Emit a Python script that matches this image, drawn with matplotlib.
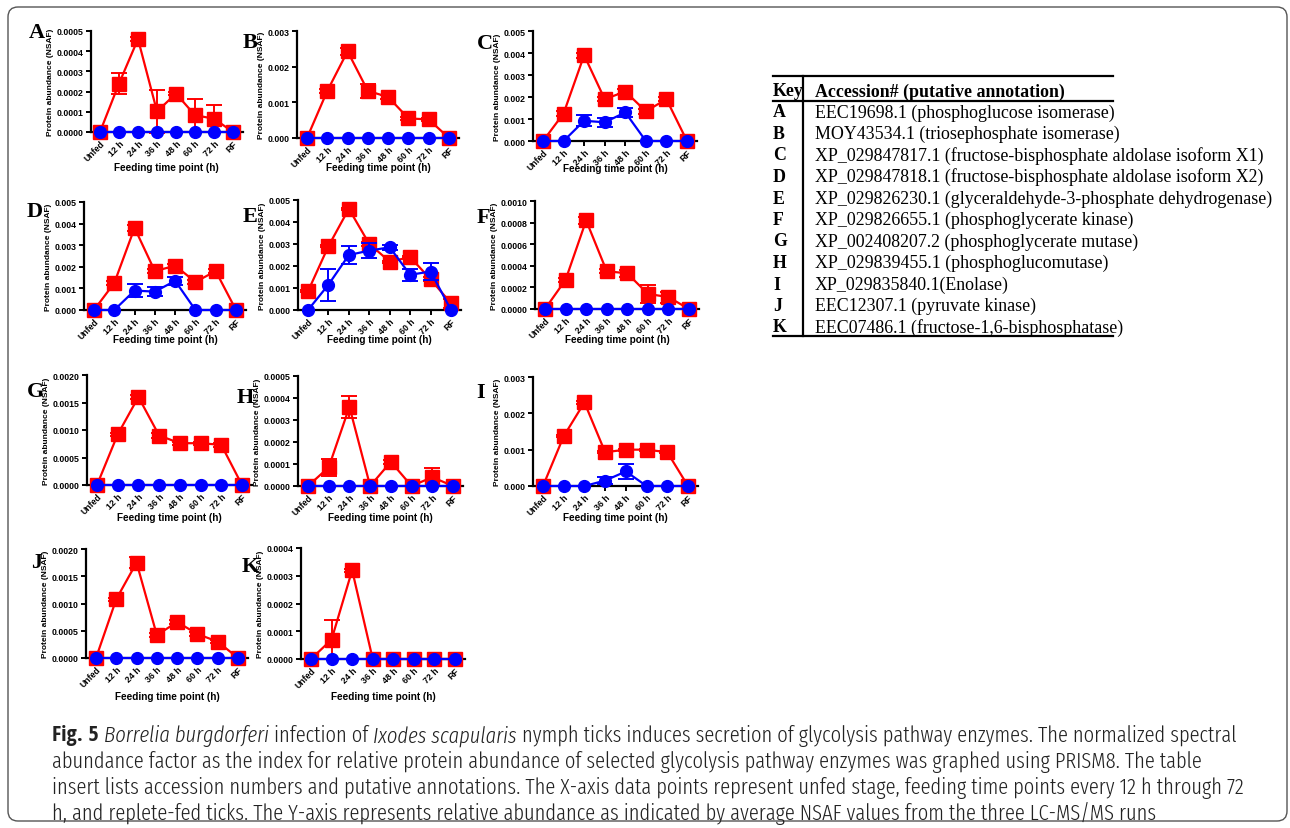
import matplotlib
matplotlib.use("Agg")
import matplotlib.pyplot as plt
from matplotlib import font_manager
from matplotlib.lines import Line2D
from matplotlib.patches import FancyBboxPatch
from matplotlib.transforms import IdentityTransform
import numpy as np

W, H = 1290, 829
RED = "#ff0000"
BLUE = "#0000ff"

timepoints = ["Unfed", "12 h", "24 h", "36 h", "48 h", "60 h", "72 h", "RF"]
keys = list("ABCDEFGHIJK")

# red squares (mean, sd) and blue circles (mean, sd) per panel
red_A = [0, 0.00024, 0.00046, 0.000102, 0.00019, 0.000083, 0.000066, 0]
red_err_A = [0, 0.000052, 0.000008, 0.000105, 0.000008, 0.000082, 0.000068, 0]
blue_A = [0, 0, 0, 0, 0, 0, 0, 0]
blue_err_A = [0, 0, 0, 0, 0, 0, 0, 0]

red_B = [0, 0.00132, 0.00243, 0.00132, 0.00115, 0.00055, 0.00052, 0]
red_err_B = [0, 0.00006, 0.00009, 0.0002, 0.00006, 0.00005, 0.00005, 0]
blue_B = [0, 0, 0, 0, 0, 0, 0, 0]
blue_err_B = [0, 0, 0, 0, 0, 0, 0, 0]

red_C = [0, 0.00125, 0.0039, 0.0019, 0.00225, 0.00135, 0.0019, 0]
red_err_C = [0, 0.0001, 0.00012, 0.0001, 0.0001, 0.0001, 0.0001, 0]
blue_C = [0, 0, 0.00092, 0.00085, 0.0013, 0, 0, 0]
blue_err_C = [0, 0, 0.00025, 0.0002, 0.0002, 0, 0, 0]

red_D = [0, 0.00125, 0.0038, 0.0018, 0.00205, 0.0013, 0.0018, 0]
red_err_D = [0, 0.0001, 0.00012, 0.0001, 0.0001, 0.0001, 0.0001, 0]
blue_D = [0, 0, 0.0009, 0.00085, 0.00135, 0, 0, 0]
blue_err_D = [0, 0, 0.0003, 0.0002, 0.0002, 0, 0, 0]

red_E = [0.00085, 0.0029, 0.0046, 0.003, 0.0022, 0.0024, 0.0014, 0.0003]
red_err_E = [0.00005, 0.00005, 0.00005, 0.0001, 0.00005, 0.00005, 0.0001, 0.0002]
blue_E = [0, 0.00115, 0.0025, 0.0027, 0.00285, 0.0016, 0.00175, 0]
blue_err_E = [0, 0.00072, 0.0004, 0.00035, 0.0001, 0.00028, 0.0004, 0]

red_F = [0, 0.00027, 0.00082, 0.00035, 0.00033, 0.00014, 0.00011, 0]
red_err_F = [0, 0.00002, 0.00003, 0.00002, 0.00003, 0.00008, 0.00005, 0]
blue_F = [0, 0, 0, 0, 0, 0, 0, 0]
blue_err_F = [0, 0, 0, 0, 0, 0, 0, 0]

red_G = [0, 0.00092, 0.0016, 0.0009, 0.00076, 0.00076, 0.00073, 0]
red_err_G = [0, 0.00003, 0.00004, 0.00004, 0.00003, 0.00003, 0.00003, 0]
blue_G = [0, 0, 0, 0, 0, 0, 0, 0]
blue_err_G = [0, 0, 0, 0, 0, 0, 0, 0]

red_H = [0, 0.000085, 0.00036, 0, 0.00011, 0, 0.00004, 0]
red_err_H = [0, 0.00004, 0.00005, 0, 0.00001, 0, 0.00004, 0]
blue_H = [0, 0, 0, 0, 0, 0, 0, 0]
blue_err_H = [0, 0, 0, 0, 0, 0, 0, 0]

red_I = [0, 0.00137, 0.0023, 0.00093, 0.001, 0.001, 0.00093, 0]
red_err_I = [0, 0.00003, 0.00003, 0.00003, 0.00003, 0.00003, 0.00003, 0]
blue_I = [0, 0, 0, 0.00015, 0.0004, 0, 0, 0]
blue_err_I = [0, 0, 0, 0.0001, 0.0002, 0, 0, 0]

red_J = [0, 0.00108, 0.00175, 0.00042, 0.00066, 0.00044, 0.0003, 0]
red_err_J = [0, 0.00003, 0.0001, 0.00003, 0.00003, 0.00003, 0.00003, 0]
blue_J = [0, 0, 0, 0, 0, 0, 0, 0]
blue_err_J = [0, 0, 0, 0, 0, 0, 0, 0]

red_K = [0, 0.00007, 0.00032, 0, 0, 0, 0, 0]
red_err_K = [0, 0.00007, 0.000005, 0, 0, 0, 0, 0]
blue_K = [0, 0, 0, 0, 0, 0, 0, 0]
blue_err_K = [0, 0, 0, 0, 0, 0, 0, 0]

# y axis: max, step, decimals
y_max = [0.0005, 0.003, 0.005, 0.005, 0.005, 0.001, 0.002, 0.0005, 0.003, 0.002, 0.0004]
y_step = [0.0001, 0.001, 0.001, 0.001, 0.001, 0.0002, 0.0005, 0.0001, 0.001, 0.0005, 0.0001]
y_dec = [4, 3, 3, 3, 3, 4, 4, 4, 3, 4, 4]

table_keys = keys
table_rows = [
    "EEC19698.1 (phosphoglucose isomerase)",
    "MOY43534.1 (triosephosphate isomerase)",
    "XP_029847817.1 (fructose-bisphosphate aldolase isoform X1)",
    "XP_029847818.1 (fructose-bisphosphate aldolase isoform X2)",
    "XP_029826230.1 (glyceraldehyde-3-phosphate dehydrogenase)",
    "XP_029826655.1 (phosphoglycerate kinase)",
    "XP_002408207.2 (phosphoglycerate mutase)",
    "XP_029839455.1 (phosphoglucomutase)",
    "XP_029835840.1(Enolase)",
    "EEC12307.1 (pyruvate kinase)",
    "EEC07486.1 (fructose-1,6-bisphosphatase)",
]

caption_lines = [
    "abundance factor as the index for relative protein abundance of selected glycolysis pathway enzymes was graphed using PRISM8. The table",
    "insert lists accession numbers and putative annotations. The X-axis data points represent unfed stage, feeding time points every 12 h through 72",
    "h, and replete-fed ticks. The Y-axis represents relative abundance as indicated by average NSAF values from the three LC-MS/MS runs",
]

# layout in pixels: (x of Unfed, x of RF, top y, bottom y), letter pos, xlabel y
boxes = [(100, 233, 32, 133), (307, 449, 32, 139), (543, 687, 32, 142),
         (94, 236, 203, 311), (308, 451, 201, 311), (545, 689, 202, 310),
         (97, 242, 376, 486), (308, 453, 377, 487), (543, 688, 378, 487),
         (96, 238, 550, 659), (311, 455, 549, 660)]
letters = [(37, 33), (250, 43), (485, 44), (35, 212), (250, 217), (483, 218),
           (35, 392), (245, 398), (481, 393), (37, 563), (250, 567)]
xlab_y = [168, 168, 169, 340, 340, 340, 518, 518, 518, 697, 697]

plt.rcParams["font.family"] = ["Liberation Sans", "DejaVu Sans"]
fig = plt.figure(figsize=(W / 100, H / 100), dpi=100)


def fx(x):
    return x / W


def fy(y):
    return 1 - y / H


red_all = [red_A, red_B, red_C, red_D, red_E, red_F, red_G, red_H, red_I, red_J, red_K]
red_err_all = [red_err_A, red_err_B, red_err_C, red_err_D, red_err_E, red_err_F,
               red_err_G, red_err_H, red_err_I, red_err_J, red_err_K]
blue_all = [blue_A, blue_B, blue_C, blue_D, blue_E, blue_F, blue_G, blue_H, blue_I, blue_J, blue_K]
blue_err_all = [blue_err_A, blue_err_B, blue_err_C, blue_err_D, blue_err_E, blue_err_F,
                blue_err_G, blue_err_H, blue_err_I, blue_err_J, blue_err_K]


def series(ax, x, y, err, color, marker, ms, z):
    y = np.array(y)
    err = np.array(err)
    m = err > 0
    if m.any():
        ax.errorbar(x[m], y[m], yerr=err[m], fmt="none", ecolor=color, elinewidth=1.4,
                    capsize=6, capthick=1.4, zorder=z, clip_on=False)
    ax.plot(x, y, color=color, lw=1.6, marker=marker, ms=ms, mec=color, mfc=color,
            zorder=z + 0.5, clip_on=False)


for i, k in enumerate(keys):
    ux, rx, top, bot = boxes[i]
    s = (rx - ux) / 7
    x0, x1 = ux - 0.5 * s, rx + 0.5 * s
    ax = fig.add_axes([fx(x0), fy(bot), (x1 - x0) / W, (bot - top) / H])
    x = np.arange(len(timepoints))
    series(ax, x, red_all[i], red_err_all[i], RED, "s", 9.5, 3)
    series(ax, x, blue_all[i], blue_err_all[i], BLUE, "o", 8.5, 5)
    ax.set_xlim(-0.5, 7.5)
    ax.set_ylim(0, y_max[i])
    ticks = np.arange(0, y_max[i] + y_step[i] / 2, y_step[i])
    ax.set_yticks(ticks)
    ax.set_yticklabels([f"{t:.{y_dec[i]}f}" for t in ticks], fontsize=6.3, fontweight="bold")
    ax.set_xticks(x)
    ax.set_xticklabels(timepoints, rotation=45, ha="right", rotation_mode="anchor",
                       fontsize=6.3, fontweight="bold")
    for sp in ["top", "right"]:
        ax.spines[sp].set_visible(False)
    for sp in ["left", "bottom"]:
        ax.spines[sp].set_linewidth(1.6)
    ax.tick_params(width=1.4, length=3.5, pad=1.5)
    ax.set_ylabel("Protein abundance (NSAF)", fontsize=6, fontweight="bold", labelpad=2)
    ax.patch.set_alpha(0)
    fig.text(fx((x0 + x1) / 2), fy(xlab_y[i]), "Feeding time point (h)", ha="center",
             va="center", fontsize=7.2, fontweight="bold")
    fig.text(fx(letters[i][0]), fy(letters[i][1]), k, ha="center", va="center",
             fontsize=16, fontweight="bold", family="Liberation Serif")

renderer = fig.canvas.get_renderer()


def text_w(s, size, **kw):
    t = fig.text(0, 0, s, fontsize=size, **kw)
    w = t.get_window_extent(renderer).width
    t.remove()
    return w


# table
serif = "Liberation Serif"
tsize = 12 * 455 / text_w(table_rows[4], 12, family=serif)
for y0, x_a, x_b in [(77, 773, 1113), (102, 773, 1113), (337, 773, 1113)]:
    fig.add_artist(Line2D([fx(x_a), fx(x_b)], [fy(y0), fy(y0)], color="black", lw=1.6,
                          transform=fig.transFigure))
fig.add_artist(Line2D([fx(803), fx(803)], [fy(77), fy(337)], color="black", lw=1.6,
                      transform=fig.transFigure))
fig.text(fx(773), fy(92), "Key", family=serif, fontweight="bold", fontsize=tsize,
         va="center", ha="left")
fig.text(fx(815), fy(92), "Accession# (putative annotation)", family=serif,
         fontweight="bold", fontsize=tsize, va="center", ha="left")
for j, (kk, row) in enumerate(zip(table_keys, table_rows)):
    yy = 113 + j * 21.5
    fig.text(fx(773), fy(yy), kk, family=serif, fontweight="bold", fontsize=tsize,
             va="center", ha="left")
    fig.text(fx(815), fy(yy), row, family=serif, fontsize=tsize, va="center", ha="left")

# caption: a light condensed face if one is installed
fonts = font_manager.fontManager.ttflist


def has_face(name, wmax, style="normal"):
    return any(f.name == name and f.style == style and int(f.weight) <= wmax for f in fonts)


cands = ["Open Sans Condensed Light", "Open Sans Condensed", "Fira Sans Extra Condensed",
         "Roboto Condensed", "Fira Sans Condensed", "PT Sans Narrow", "Archivo Narrow",
         "Liberation Sans Narrow", "Encode Sans Condensed", "Barlow Semi Condensed"]
cap_family = next((n for n in cands if has_face(n, 350)), None) or \
    next((n for n in cands if has_face(n, 400)), "DejaVu Sans")
bold_family = "Open Sans Condensed" if any(f.name == "Open Sans Condensed" for f in fonts) else cap_family
wt = 300 if has_face(cap_family, 350) else "normal"
it_style = "italic" if any(f.name == cap_family and f.style == "italic" for f in fonts) else "normal"
light = {"family": cap_family, "fontweight": wt}
pieces = [("Fig. 5", {"family": bold_family, "fontweight": "bold"}),
          ("Borrelia burgdorferi", {**light, "style": it_style}),
          ("infection of", light),
          ("Ixodes scapularis", {**light, "style": it_style}),
          ("nymph ticks induces secretion of glycolysis pathway enzymes. The normalized spectral", light)]
base = 12
sp_w = text_w("a a", base, **light) - text_w("aa", base, **light)
total = sum(text_w(p, base, **kw) for p, kw in pieces) + sp_w * (len(pieces) - 1)
csize = base * 1184 / total
sp_w = sp_w * csize / base
xcur = 52
for p, kw in pieces:
    t = fig.text(fx(xcur), fy(736), p, fontsize=csize, color="#222222",
                 va="center", ha="left", **kw)
    xcur += t.get_window_extent(renderer).width + sp_w
for j, line in enumerate(caption_lines):
    fig.text(fx(52), fy(762 + j * 25.7), line, fontsize=csize, color="#222222",
             va="center", ha="left", **light)

border = FancyBboxPatch((8, 7), 1279, 814, boxstyle="round,pad=0,rounding_size=10",
                        transform=IdentityTransform(), fill=False, ec="#555555", lw=1)
fig.add_artist(border)

fig.savefig("out.png", dpi=100)
